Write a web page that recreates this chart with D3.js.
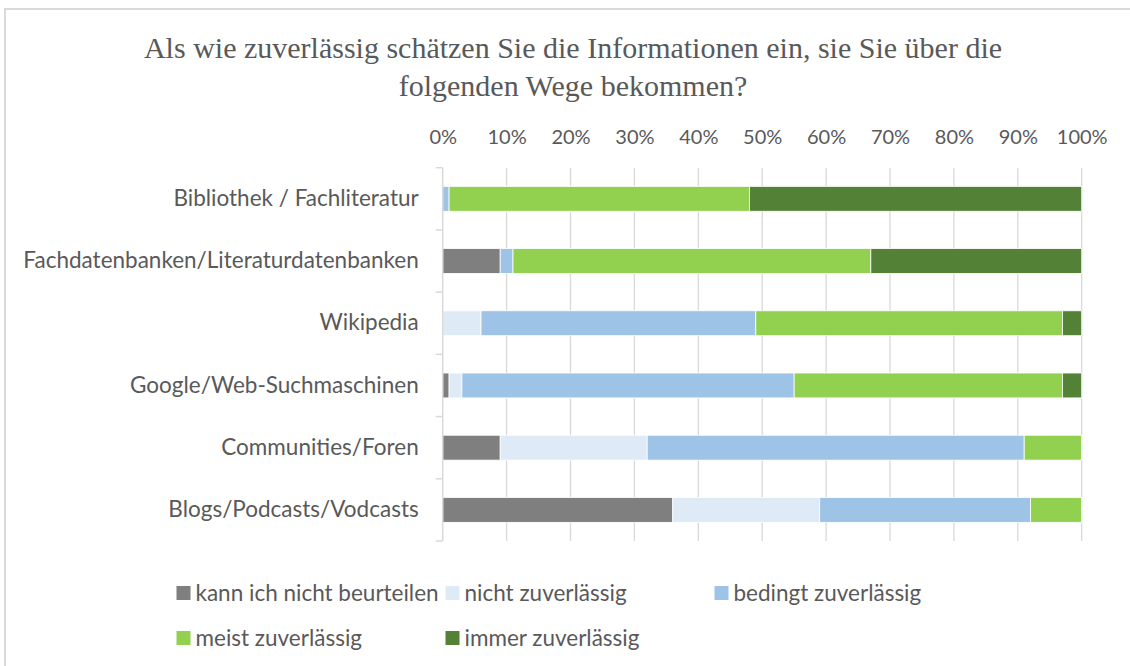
<!DOCTYPE html>
<html>
<head>
<meta charset="utf-8">
<script src="https://cdn.jsdelivr.net/npm/d3@7"></script>
<style>
  body { margin: 0; background: #fff; }
  .axis text { fill: #595959; font-family: Lato, sans-serif; font-size: 20px; }
  .y.axis text { font-size: 22.5px; }
  .legend text { fill: #595959; font-family: Lato, sans-serif; font-size: 22.5px; }
</style>
</head>
<body>
<div id="chart"></div>
<script>
var categories = [
  'Bibliothek / Fachliteratur',
  'Fachdatenbanken/Literaturdatenbanken',
  'Wikipedia',
  'Google/Web-Suchmaschinen',
  'Communities/Foren',
  'Blogs/Podcasts/Vodcasts'
];
var seriesNames = [
  'kann ich nicht beurteilen',
  'nicht zuverlässig',
  'bedingt zuverlässig',
  'meist zuverlässig',
  'immer zuverlässig'
];
// percentages per category, in series order
var kannNicht = [0, 9, 0, 1, 9, 36];
var nichtZuv  = [0, 0, 6, 2, 23, 23];
var bedingt   = [1, 2, 43, 52, 59, 33];
var meist     = [47, 56, 48, 42, 9, 8];
var immer     = [52, 33, 3, 3, 0, 0];
var tickValues = [0, 0.1, 0.2, 0.3, 0.4, 0.5, 0.6, 0.7, 0.8, 0.9, 1];
var colors = ['#7f7f7f', '#deebf7', '#9dc3e6', '#92d050', '#538135'];

var W = 1130, H = 666;
var margin = {top: 167.7, right: 48.3, bottom: 125, left: 442.7};
var width = W - margin.left - margin.right;
var height = H - margin.top - margin.bottom;

var rows = categories.map(function(c, i) {
  return {cat: c, v: [kannNicht[i], nichtZuv[i], bedingt[i], meist[i], immer[i]]};
});
var stack = d3.stack()
  .keys(d3.range(seriesNames.length))
  .value(function(d, k) { return d.v[k] / 100; });
var layers = stack(rows);

var x = d3.scaleLinear().domain([0, 1]).range([0, width]);
var y = d3.scaleBand().domain(categories).range([0, height]).paddingInner(0.6).paddingOuter(0.3);

var svg = d3.select('#chart').append('svg')
  .attr('width', W)
  .attr('height', H);

// chart frame (cropped on right / bottom)
svg.append('rect')
  .attr('x', 5).attr('y', 9)
  .attr('width', W + 20).attr('height', H + 20)
  .attr('fill', 'none')
  .attr('stroke', '#d9d9d9')
  .attr('stroke-width', 2);

var title = svg.append('text')
  .attr('text-anchor', 'middle')
  .style('font-family', '"Liberation Serif", serif')
  .style('font-size', '30px')
  .style('fill', '#595959');
title.append('tspan').attr('x', 573).attr('y', 58)
  .text('Als wie zuverlässig schätzen Sie die Informationen ein, sie Sie über die');
title.append('tspan').attr('x', 573).attr('y', 96)
  .text('folgenden Wege bekommen?');

var g = svg.append('g')
  .attr('transform', 'translate(' + margin.left + ',' + margin.top + ')');

// gridlines
g.append('g')
  .attr('class', 'grid')
  .selectAll('line')
  .data(tickValues.slice(1))
  .join('line')
  .attr('x1', function(d) { return x(d); })
  .attr('x2', function(d) { return x(d); })
  .attr('y1', 0)
  .attr('y2', height)
  .attr('stroke', '#d9d9d9')
  .attr('stroke-width', 1.3);

var xAxis = d3.axisTop(x)
  .tickValues(tickValues)
  .tickFormat(d3.format('.0%'))
  .tickSize(0)
  .tickPadding(0);

g.append('g')
  .attr('class', 'x axis')
  .attr('transform', 'translate(0,-24)')
  .call(xAxis)
  .call(function(s) { s.select('.domain').remove(); });

g.append('g')
  .selectAll('g')
  .data(layers)
  .join('g')
  .attr('fill', function(d, i) { return colors[i]; })
  .selectAll('rect')
  .data(function(d) { return d; })
  .join('rect')
  .attr('x', function(d) { return x(d[0]); })
  .attr('y', function(d) { return y(d.data.cat); })
  .attr('width', function(d) { return Math.max(0, x(d[1]) - x(d[0])); })
  .attr('height', y.bandwidth())
  .attr('stroke', function(d) { return d[1] > d[0] ? '#fff' : 'none'; })
  .attr('stroke-width', 0.8);

// category axis with Excel-style separators
var yAxis = d3.axisLeft(y).tickSize(0).tickPadding(24);
g.append('g')
  .attr('class', 'y axis')
  .call(yAxis)
  .call(function(s) { s.select('.domain').remove(); });

var step = height / categories.length;
var sep = g.append('g').attr('stroke', '#d9d9d9').attr('stroke-width', 1.5);
sep.append('line').attr('x1', 0).attr('x2', 0).attr('y1', 0).attr('y2', height);
sep.selectAll('.sep')
  .data(d3.range(categories.length + 1))
  .join('line')
  .attr('class', 'sep')
  .attr('x1', -7).attr('x2', 0)
  .attr('y1', function(d) { return d * step; })
  .attr('y2', function(d) { return d * step; });

// legend
var legend = svg.append('g').attr('class', 'legend');
var item = legend.selectAll('g')
  .data(seriesNames)
  .join('g')
  .attr('transform', function(d, i) {
    return 'translate(' + (176.5 + (i % 3) * 269) + ',' + (593 + Math.floor(i / 3) * 45) + ')';
  });
item.append('rect')
  .attr('x', 0).attr('y', -7)
  .attr('width', 14).attr('height', 14)
  .attr('fill', function(d, i) { return colors[i]; });
item.append('text')
  .attr('x', 19)
  .attr('dy', '0.35em')
  .text(function(d) { return d; });
</script>
</body>
</html>
